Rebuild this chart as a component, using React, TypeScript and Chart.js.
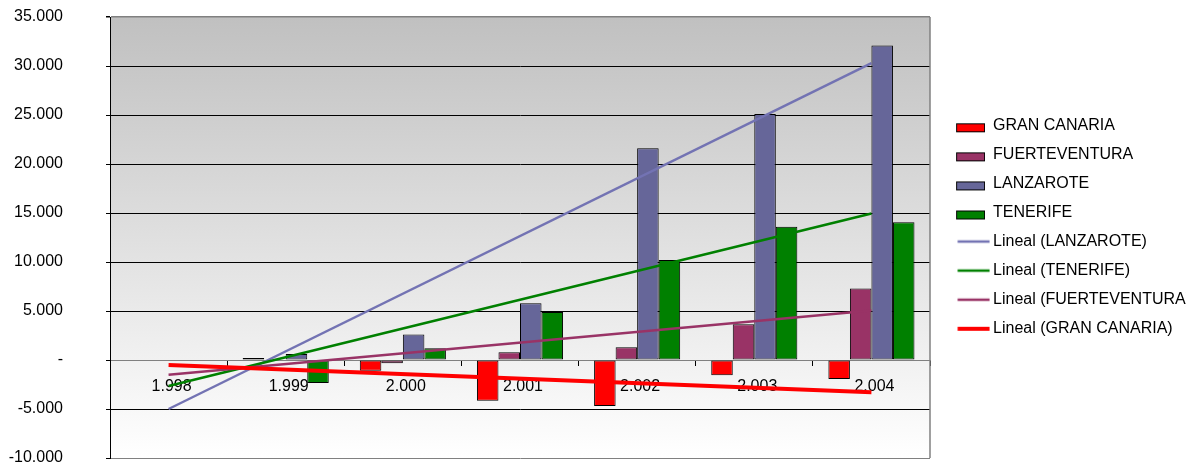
import React, { useEffect, useRef } from 'react';
import { Chart, registerables } from 'chart.js';

Chart.register(...registerables);

// ---- data (thousands shown with "." separator) ----
const categories = ['1.998', '1.999', '2.000', '2.001', '2.002', '2.003', '2.004'];
const granCanaria = [0, 200, -1100, -4150, -4700, -1550, -1950];
const fuerteventura = [0, 0, -340, 800, 1300, 3650, 7300];
const lanzarote = [0, 600, 2600, 5800, 21600, 25100, 32100];
const tenerife = [0, -2350, 1200, 4900, 10200, 13600, 14050];

const trendLanzarote = [-5000, null, null, null, null, null, 30300];
const trendTenerife = [-2650, null, null, null, null, null, 14950];
const trendFuerteventura = [-1500, null, null, null, null, null, 5050];
const trendGranCanaria = [-500, null, null, null, null, null, -3300];

const yMin = -10000;
const yMax = 35000;
const yStep = 5000;

const COLORS = {
  gc: '#FF0000',
  fv: '#993366',
  lz: '#666699',
  tf: '#008000',
  lzTrend: '#7373B3',
};

function fmt(v: number): string {
  if (v === 0) return '-';
  const s = String(Math.abs(v)).replace(/\B(?=(\d{3})+(?!\d))/g, '.');
  return (v < 0 ? '-' : '') + s;
}

function boxIcon(color: string): HTMLCanvasElement {
  const c = document.createElement('canvas');
  c.width = 42;
  c.height = 16;
  const x = c.getContext('2d')!;
  x.fillStyle = color;
  x.fillRect(13.5, 6.5, 28, 8);
  x.strokeStyle = '#000';
  x.lineWidth = 1;
  x.strokeRect(13.5, 6.5, 28, 8);
  return c;
}

function lineIcon(color: string, w: number): HTMLCanvasElement {
  const c = document.createElement('canvas');
  c.width = 52;
  c.height = 8;
  const x = c.getContext('2d')!;
  x.strokeStyle = color;
  x.lineWidth = w;
  x.beginPath();
  x.moveTo(19.5, 4);
  x.lineTo(51.5, 4);
  x.stroke();
  return c;
}

const plotBg = {
  id: 'plotBg',
  beforeDraw(chart: any) {
    const { ctx, chartArea: a } = chart;
    const g = ctx.createLinearGradient(0, a.top, 0, a.bottom);
    g.addColorStop(0, '#C0C0C0');
    g.addColorStop(1, '#FFFFFF');
    ctx.save();
    ctx.fillStyle = g;
    ctx.fillRect(a.left, a.top, a.right - a.left, a.bottom - a.top);
    ctx.restore();
  },
  beforeDatasetsDraw(chart: any) {
    const { ctx, chartArea: a } = chart;
    ctx.save();
    ctx.strokeStyle = '#808080';
    ctx.lineWidth = 1.5;
    ctx.beginPath();
    ctx.moveTo(a.right, a.top);
    ctx.lineTo(a.right, a.bottom);
    ctx.stroke();
    ctx.restore();
  },
};

export default function App() {
  const ref = useRef<HTMLCanvasElement>(null);

  useEffect(() => {
    if (!ref.current) return;
    Chart.defaults.font.family = '"Liberation Sans", Arial, sans-serif';
    Chart.defaults.font.size = 16;
    Chart.defaults.color = '#000';

    const icons = [
      boxIcon(COLORS.gc),
      boxIcon(COLORS.fv),
      boxIcon(COLORS.lz),
      boxIcon(COLORS.tf),
      lineIcon(COLORS.lzTrend, 2.5),
      lineIcon(COLORS.tf, 2.5),
      lineIcon(COLORS.fv, 2.5),
      lineIcon(COLORS.gc, 4),
    ];

    const barCommon = {
      type: 'bar' as const,
      borderColor: '#000',
      borderWidth: 1,
      borderSkipped: false as const,
      categoryPercentage: 0.735,
      barPercentage: 1,
      order: 10,
    };
    const lineCommon = {
      type: 'line' as const,
      spanGaps: true,
      pointRadius: 0,
      pointHoverRadius: 0,
      fill: false,
      tension: 0,
    };

    const chart = new Chart(ref.current, {
      type: 'bar',
      data: {
        labels: categories,
        datasets: [
          { ...barCommon, label: 'GRAN CANARIA', data: granCanaria, backgroundColor: COLORS.gc },
          { ...barCommon, label: 'FUERTEVENTURA', data: fuerteventura, backgroundColor: COLORS.fv },
          { ...barCommon, label: 'LANZAROTE', data: lanzarote, backgroundColor: COLORS.lz },
          { ...barCommon, label: 'TENERIFE', data: tenerife, backgroundColor: COLORS.tf },
          { ...lineCommon, label: 'Lineal (LANZAROTE)', data: trendLanzarote, borderColor: COLORS.lzTrend, borderWidth: 2.5, order: 4 },
          { ...lineCommon, label: 'Lineal (TENERIFE)', data: trendTenerife, borderColor: COLORS.tf, borderWidth: 2.5, order: 3 },
          { ...lineCommon, label: 'Lineal (FUERTEVENTURA)', data: trendFuerteventura, borderColor: COLORS.fv, borderWidth: 2.5, order: 2 },
          { ...lineCommon, label: 'Lineal (GRAN CANARIA)', data: trendGranCanaria, borderColor: COLORS.gc, borderWidth: 4, order: 1 },
        ] as any,
      },
      options: {
        responsive: false,
        animation: false,
        layout: { padding: { top: 17, bottom: 14, left: 0, right: 0 } },
        scales: {
          x: {
            position: { y: 0 } as any,
            offset: true,
            afterFit(scale: any) {
              scale.height = 0;
              scale.paddingLeft = 0;
              scale.paddingRight = 0;
              scale.paddingTop = 0;
              scale.paddingBottom = 0;
            },
            grid: {
              offset: true,
              drawOnChartArea: false,
              drawTicks: true,
              tickLength: 5,
              color: '#000',
            },
            border: { display: true, color: '#808080', width: 1 },
            ticks: { padding: 12, labelOffset: 3, maxRotation: 0, autoSkip: false, font: { size: 16 }, color: '#000' },
          },
          y: {
            min: yMin,
            max: yMax,
            afterFit(scale: any) {
              scale.width = 110;
              scale.paddingTop = 0;
              scale.paddingBottom = 0;
            },
            ticks: {
              stepSize: yStep,
              padding: 43,
              font: { size: 16 },
              color: '#000',
              callback: (v: any) => fmt(Number(v)),
            },
            grid: {
              color: (c: any) => {
                const v = c.tick ? c.tick.value : 0;
                return v === 0 || v === yMax || v === yMin ? '#808080' : '#000000';
              },
              lineWidth: (c: any) => {
                const v = c.tick ? c.tick.value : 0;
                return v === yMax ? 1.5 : 1;
              },
              tickColor: '#000',
              tickLength: 4,
              drawTicks: true,
            },
            border: { display: true, color: '#000', width: 1 },
          },
        },
        plugins: {
          tooltip: { enabled: false },
          legend: {
            position: 'right',
            align: 'start',
            maxWidth: 267,
            title: {
              display: true,
              text: '',
              font: { size: 16 },
              padding: { top: 68, bottom: 0 },
            },
            labels: {
              usePointStyle: true,
              pointStyleWidth: 42,
              padding: 13.07,
              font: { size: 16 },
              color: '#000',
              generateLabels: (ch: any) =>
                ch.data.datasets.map((ds: any, i: number) => ({
                  text: ds.label,
                  pointStyle: icons[i],
                  datasetIndex: i,
                  hidden: false,
                  lineWidth: 0,
                  fillStyle: 'transparent',
                  strokeStyle: 'transparent',
                  fontColor: '#000',
                })),
            },
          },
        },
      } as any,
      plugins: [plotBg],
    });

    return () => chart.destroy();
  }, []);

  return (
    <div style={{ position: 'fixed', left: 0, top: 0, width: 1186, height: 472, overflow: 'hidden', background: '#fff' }}>
      <canvas ref={ref} width={1197} height={472} style={{ display: 'block', width: 1197, height: 472 }} />
    </div>
  );
}
